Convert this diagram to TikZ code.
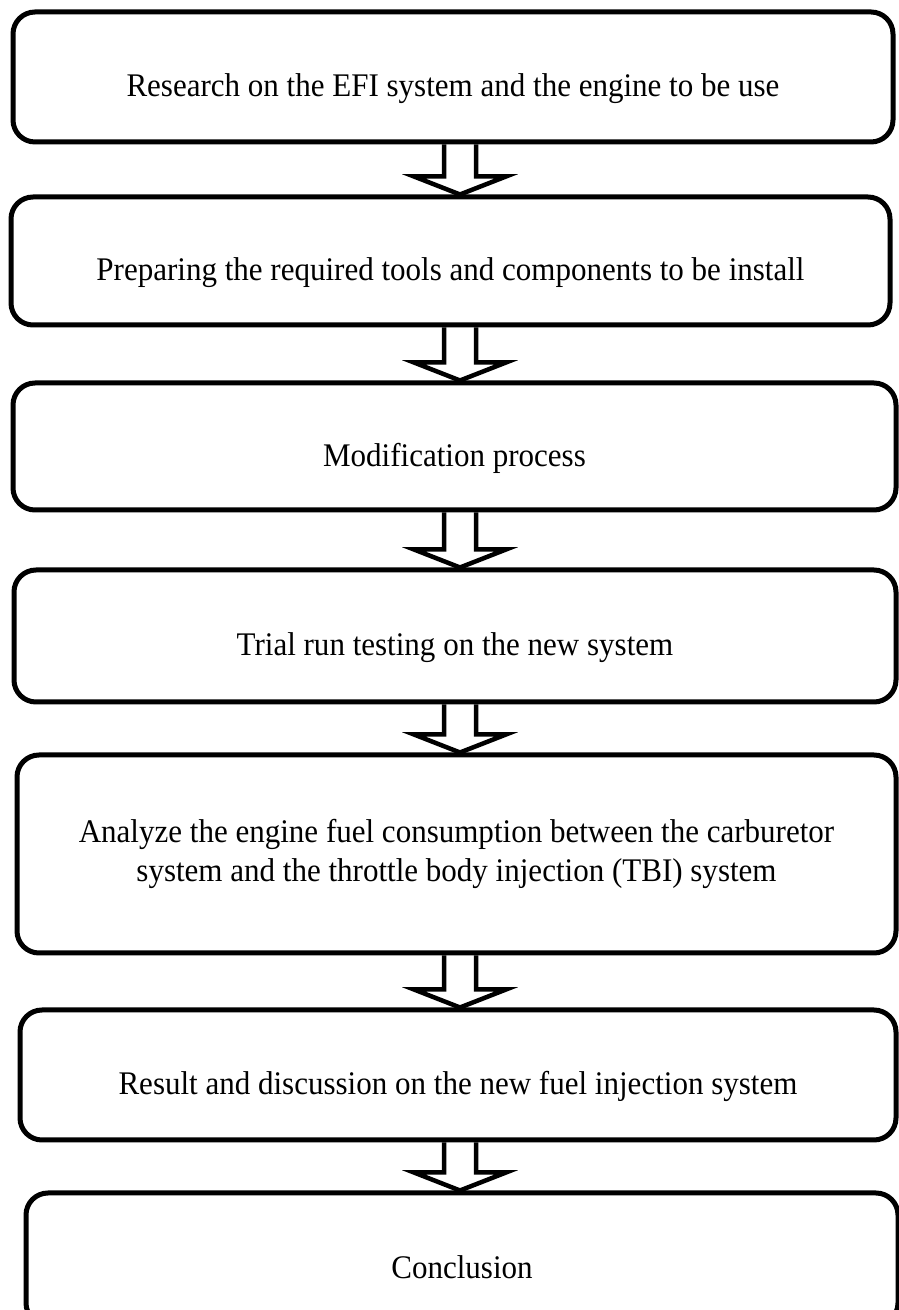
\documentclass[tikz,border=0pt]{standalone}
\usepackage{fontspec}
\setmainfont{Liberation Serif}[FakeStretch=0.94]
\usetikzlibrary{calc}

% hollow block arrow between two stages
\newcommand{\pipe}[2]{%
	\draw [hollow] let \p1 = (axis |- #1.south), \p2 = (axis |- #2.north) in
		(\x1-16, \y1) -- (\x1-16, \y2+18) -- (\x1-46, \y2+18) -- (\x2, \y2)
		-- (\x1+46, \y2+18) -- (\x1+16, \y2+18) -- (\x1+16, \y1);}

\begin{document}
\begin{tikzpicture}[
	x=1pt, y=1pt,
	stage/.style={draw, line width=5pt, rounded corners=22pt, inner sep=0pt, align=center, font=\fontsize{33}{39}\selectfont},
	oneline/.style={text height=44pt, text depth=4pt},
	hollow/.style={draw, line width=4.5pt, line join=miter}
	]
	\useasboundingbox (0, 0) rectangle (898, 1310);
	\coordinate (axis) at (460, 0);
	\node [stage, oneline, minimum width=880pt, minimum height=130pt] (research) at (453, 1233) {Research on the EFI system and the engine to be use};
	\node [stage, oneline, minimum width=879pt, minimum height=128pt] (tools) at (450.5, 1049) {Preparing the required tools and components to be install};
	\node [stage, oneline, minimum width=883pt, minimum height=127pt] (modify) at (454.5, 863.5) {Modification process};
	\node [stage, oneline, minimum width=882pt, minimum height=132pt] (trial) at (455, 674) {Trial run testing on the new system};
	\node [stage, minimum width=879pt, minimum height=198pt] (analyze) at (456.5, 456) {Analyze the engine fuel consumption between the carburetor\\system and the throttle body injection (TBI) system};
	\node [stage, oneline, minimum width=876pt, minimum height=130pt] (result) at (458, 235) {Result and discussion on the new fuel injection system};
	\node [stage, oneline, minimum width=872pt, minimum height=132pt] (conclusion) at (462, 51) {Conclusion};
	\pipe{research}{tools}
	\pipe{tools}{modify}
	\pipe{modify}{trial}
	\pipe{trial}{analyze}
	\pipe{analyze}{result}
	\pipe{result}{conclusion}
\end{tikzpicture}
\end{document}
